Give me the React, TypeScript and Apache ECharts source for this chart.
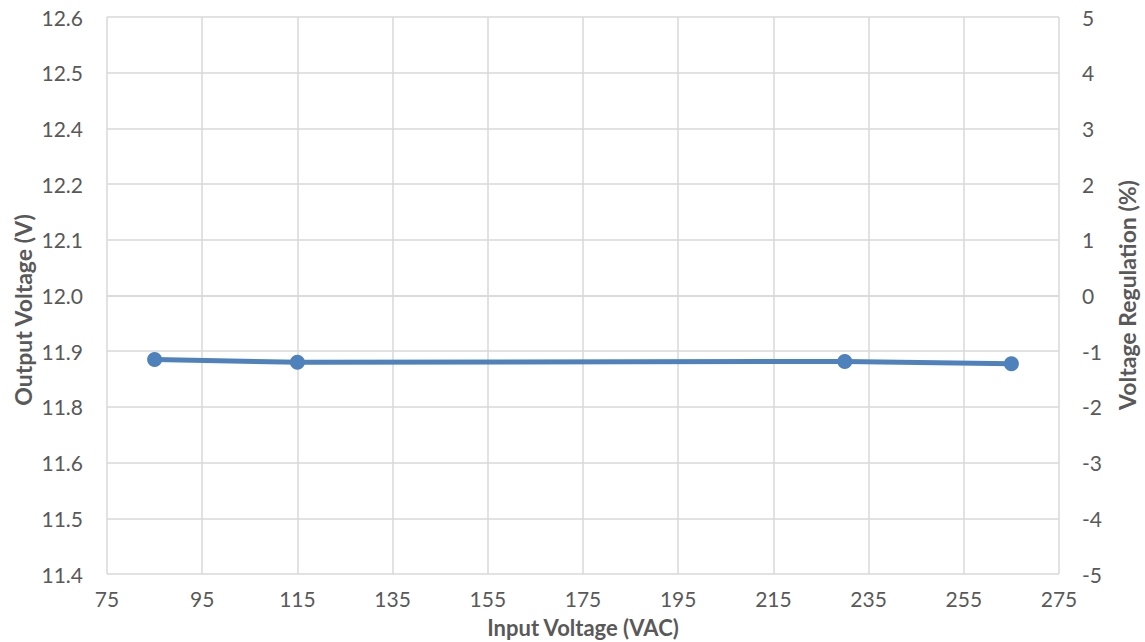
import React, { useEffect, useRef } from "react";
import * as echarts from "echarts";

const inputVoltage = [85, 115, 230, 265];
const outputVoltage = [11.862, 11.856, 11.858, 11.853];

const xTitle = "Input Voltage (VAC)";
const yLeftTitle = "Output Voltage (V)";
const yRightTitle = "Voltage Regulation (%)";

const TEXT = "#595959";
const GRID = "#d9d9d9";
const LINE = "#4f81bd";
const FONT = "Lato, 'Open Sans', sans-serif";

export default function App() {
  const ref = useRef<HTMLDivElement>(null);
  useEffect(() => {
    document.body.style.margin = "0";
    const chart = echarts.init(ref.current!, undefined, { renderer: "svg" });
    const titleStyle = {
      fill: TEXT,
      fontSize: 23,
      fontWeight: "bold",
      fontFamily: FONT,
      textAlign: "center",
      textVerticalAlign: "middle",
    };
    chart.setOption({
      animation: false,
      backgroundColor: "#ffffff",
      textStyle: { fontFamily: FONT },
      grid: { left: 107, right: 86, top: 17, bottom: 68, containLabel: false },
      graphic: [
        {
          type: "text",
          x: 583,
          y: 627,
          style: { ...titleStyle, fontSize: 22, text: xTitle },
        },
        {
          type: "text",
          x: 23,
          y: 310,
          rotation: Math.PI / 2,
          style: { ...titleStyle, text: yLeftTitle },
        },
        {
          type: "text",
          x: 1127,
          y: 295,
          rotation: Math.PI / 2,
          style: { ...titleStyle, text: yRightTitle },
        },
      ],
      xAxis: {
        type: "value",
        min: 75,
        max: 275,
        interval: 20,
        axisLine: { show: true, lineStyle: { color: GRID, width: 1.5 } },
        axisTick: { show: false },
        axisLabel: { color: TEXT, fontSize: 21, margin: 14, fontFamily: FONT },
        splitLine: { show: true, lineStyle: { color: GRID, width: 1.5 } },
      },
      yAxis: [
        {
          type: "value",
          min: 11.4,
          max: 12.6,
          interval: 0.12,
          axisLine: { show: false },
          axisTick: { show: false },
          axisLabel: {
            color: TEXT,
            fontSize: 21,
            margin: 24,
            fontFamily: FONT,
            formatter: (v: number) => v.toFixed(1),
          },
          splitLine: { show: true, lineStyle: { color: GRID, width: 1.5 } },
        },
        {
          type: "value",
          min: -5,
          max: 5,
          interval: 1,
          position: "right",
          axisLine: { show: false },
          axisTick: { show: false },
          axisLabel: { color: TEXT, fontSize: 21, margin: 23, fontFamily: FONT },
          splitLine: { show: false },
        },
      ],
      series: [
        {
          type: "line",
          yAxisIndex: 0,
          data: inputVoltage.map((x, i) => [x, outputVoltage[i]]),
          symbol: "circle",
          symbolSize: 15,
          lineStyle: { color: LINE, width: 5 },
          itemStyle: { color: LINE },
        },
      ],
    });
    return () => chart.dispose();
  }, []);
  return <div ref={ref} style={{ position: "fixed", left: 0, top: 0, width: 1145, height: 642 }} />;
}
